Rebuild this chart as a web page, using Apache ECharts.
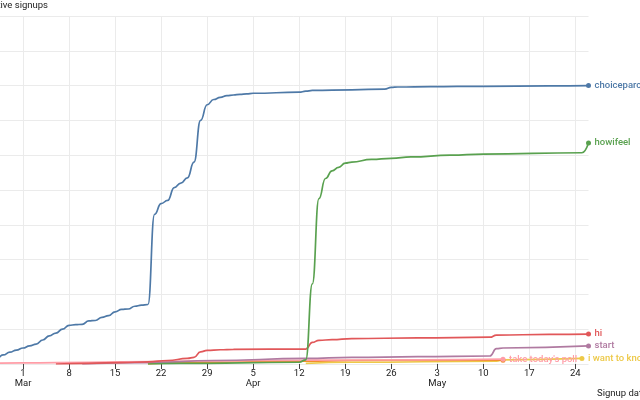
<!DOCTYPE html>
<html><head><meta charset="utf-8">
<script src="https://cdn.jsdelivr.net/npm/echarts@6/dist/echarts.min.js"></script>
<style>html,body{margin:0;padding:0;background:#fff}#c{width:640px;height:400px}</style>
</head><body><div id="c"></div>
<script>
// x categories: one per day (year 2020)
const firstDay = '2020-02-23';
const lastDay = '2020-05-26';
const monthNames = ['Jan','Feb','Mar','Apr','May','Jun','Jul','Aug','Sep','Oct','Nov','Dec'];

// series values: [date, cumulative signups]
const choiceparcel = [
  ['2020-02-23',2],['2020-02-24',5],['2020-02-25',10],['2020-02-26',17],['2020-02-27',26],['2020-02-28',34],['2020-02-29',40],
  ['2020-03-01',46],['2020-03-02',52],['2020-03-03',57],['2020-03-04',69],['2020-03-05',81],['2020-03-06',89],['2020-03-07',100],
  ['2020-03-08',111],['2020-03-09',113],['2020-03-10',114],['2020-03-11',124],['2020-03-12',125],['2020-03-13',134],['2020-03-14',139],
  ['2020-03-15',150],['2020-03-16',157],['2020-03-17',158],['2020-03-18',166],['2020-03-19',169],['2020-03-20',171],['2020-03-21',430],
  ['2020-03-22',461],['2020-03-23',470],['2020-03-24',507],['2020-03-25',520],['2020-03-26',535],['2020-03-27',580],['2020-03-28',700],
  ['2020-03-29',745],['2020-03-30',760],['2020-03-31',766],['2020-04-01',771],['2020-04-02',773],['2020-04-03',775],['2020-04-04',776],
  ['2020-04-05',778],['2020-04-12',781],['2020-04-13',784],['2020-04-14',786],['2020-04-20',788],['2020-04-25',790],['2020-04-26',795],
  ['2020-04-27',796],['2020-05-02',797],['2020-05-10',798],['2020-05-20',799],['2020-05-26',800]
];
const howifeel = [
  ['2020-03-20',0],['2020-03-25',2],['2020-04-12',5],['2020-04-13',12],['2020-04-14',230],['2020-04-15',475],['2020-04-16',533],
  ['2020-04-17',555],['2020-04-18',565],['2020-04-19',577],['2020-04-20',580],['2020-04-23',588],['2020-04-26',591],['2020-04-29',595],
  ['2020-05-05',600],['2020-05-10',603],['2020-05-25',607],['2020-05-26',635]
];
const hi = [
  ['2020-03-06',0],['2020-03-11',2],['2020-03-16',4],['2020-03-20',6],['2020-03-23',10],['2020-03-26',16],['2020-03-27',19],
  ['2020-03-28',35],['2020-03-29',39],['2020-03-31',41],['2020-04-02',42],['2020-04-13',43],['2020-04-14',62],['2020-04-15',68],
  ['2020-04-17',70],['2020-04-20',73],['2020-04-30',75],['2020-05-11',77],['2020-05-12',83],['2020-05-20',85],['2020-05-26',86]
];
const start = [
  ['2020-03-10',0],['2020-03-20',4],['2020-03-30',10],['2020-04-13',16],['2020-04-20',19],['2020-04-30',21],['2020-05-11',23],
  ['2020-05-12',44],['2020-05-13',46],['2020-05-26',52]
];
const takeTodaysPoll = [
  ['2020-02-23',1],['2020-03-01',3],['2020-03-11',5],['2020-03-21',7],['2020-03-31',9],['2020-04-13',11],['2020-04-30',12],['2020-05-13',14]
];
const orangeSeries = [
  ['2020-03-20',0],['2020-03-28',5],['2020-04-13',8],['2020-04-20',10],['2020-05-13',11]
];
const iWantToKnow = [
  ['2020-04-13',2],['2020-04-20',5],['2020-05-12',8],['2020-05-13',12],['2020-05-25',16]
];

const seriesNames = ['choiceparcel','howifeel','hi','start',"take today's poll",'','i want to know'];
const seriesValues = [choiceparcel, howifeel, hi, start, takeTodaysPoll, orangeSeries, iWantToKnow];
const seriesColors = ['#4e79a7','#59a14f','#e15759','#b07aa1','#ff9da7','#f28e2b','#edc948'];

// build day categories
const categories = [];
for (let t = Date.parse(firstDay + 'T00:00:00Z'); t <= Date.parse(lastDay + 'T00:00:00Z'); t += 86400000) {
  categories.push(new Date(t).toISOString().slice(0,10));
}
const isWeekTick = (i) => i % 7 === 0;

const chart = echarts.init(document.getElementById('c'), null, {renderer:'canvas'});
const font = 'Roboto, Liberation Sans, Arial, sans-serif';
chart.setOption({
  animation: false,
  backgroundColor: '#fff',
  grid: { left: -23, right: 51.5, top: 16, bottom: 36, containLabel: false, outerBoundsMode: 'none' },
  xAxis: {
    type: 'category', data: categories, boundaryGap: false,
    axisLine: { show: false },
    axisTick: { show: true, interval: (i) => isWeekTick(i), length: 5, lineStyle: { color: '#444' } },
    axisLabel: {
      interval: (i) => isWeekTick(i), color: '#222', fontSize: 9.5, fontFamily: font, margin: 5, lineHeight: 10,
      formatter: (v) => {
        const d = new Date(v + 'T00:00:00Z');
        const day = d.getUTCDate();
        return day <= 7 ? day + '\n' + monthNames[d.getUTCMonth()] : String(day);
      }
    },
    splitLine: { show: true, interval: (i) => isWeekTick(i), lineStyle: { color: '#ebebeb', width: 1 } }
  },
  yAxis: {
    type: 'value', min: 0, max: 1000, interval: 100,
    axisLine: { show: false }, axisTick: { show: false }, axisLabel: { show: false },
    splitLine: { show: true, lineStyle: { color: '#ebebeb', width: 1 } }
  },
  graphic: [
    { type: 'text', x: 48, y: 6, style: { text: '↑ Cumulative signups', fill: '#222', font: '9.5px ' + font, align: 'right', verticalAlign: 'middle' } },
    { type: 'text', x: 597, y: 394, style: { text: 'Signup date →', fill: '#222', font: '9.5px ' + font, align: 'left', verticalAlign: 'middle' } }
  ],
  series: seriesValues.map((vals, k) => ({
    type: 'line', name: seriesNames[k], data: vals,
    smooth: 0.5, smoothMonotone: 'x',
    lineStyle: { color: seriesColors[k], width: 1.7 },
    itemStyle: { color: seriesColors[k] },
    symbol: 'circle', showSymbol: true, showAllSymbol: true,
    symbolSize: (v, p) => p.dataIndex === vals.length - 1 ? 5 : 0,
    z: 10 - k,
    endLabel: {
      show: seriesNames[k] !== '', formatter: '{a}', color: seriesColors[k],
      fontSize: 9.5, fontWeight: 500, fontFamily: font, distance: 6
    },
    emphasis: { disabled: true }
  }))
});
</script></body></html>
